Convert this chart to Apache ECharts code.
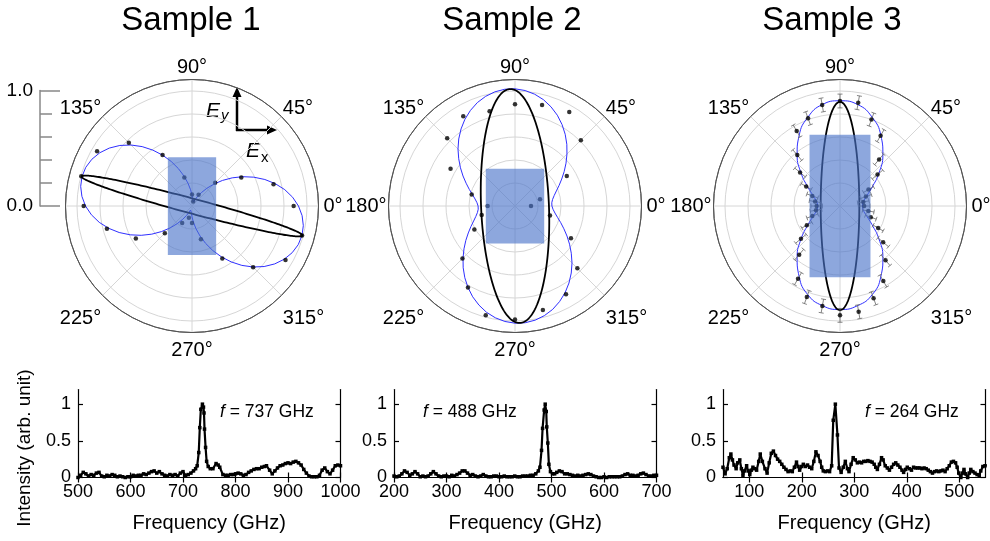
<!DOCTYPE html>
<html>
<head>
<meta charset="utf-8">
<script src="https://cdn.jsdelivr.net/npm/echarts@6/dist/echarts.min.js"></script>
<style>
  html, body { margin: 0; padding: 0; background: #fff; }
  #main { width: 990px; height: 541px; }
</style>
</head>
<body>
<div id="main"></div>
<script>
// ---------- polar data (radius normalised, angle in degrees) ----------
const dotAngles15 = [0, 15, 30, 45, 60, 75, 90, 105, 120, 135, 150, 165, 180, 195, 210, 225, 240, 255, 270, 285, 300, 315, 330, 345];
const dotAngles10 = [0, 10, 20, 30, 40, 50, 60, 70, 80, 90, 100, 110, 120, 130, 140, 150, 160, 170, 180, 190, 200, 210, 220, 230, 240, 250, 260, 270, 280, 290, 300, 310, 320, 330, 340, 350];
const fitAngles5 = [0, 5, 10, 15, 20, 25, 30, 35, 40, 45, 50, 55, 60, 65, 70, 75, 80, 85, 90, 95, 100, 105, 110, 115, 120, 125, 130, 135, 140, 145, 150, 155, 160, 165, 170, 175,
  180, 185, 190, 195, 200, 205, 210, 215, 220, 225, 230, 235, 240, 245, 250, 255, 260, 265, 270, 275, 280, 285, 290, 295, 300, 305, 310, 315, 320, 325, 330, 335, 340, 345, 350, 355];

// Sample 1 measured intensities (every 15 deg)
const s1Dots = [0.884, 0.734, 0.495, 0.285, 0.114, 0.040, 0.099, 0.257, 0.512, 0.777, 0.953, 0.997,
  0.942, 0.766, 0.564, 0.334, 0.171, 0.105, 0.148, 0.300, 0.527, 0.752, 0.939, 0.991];
// Sample 1 fitted curve (every 5 deg)
const s1Fit = [0.926, 0.878, 0.819, 0.750, 0.674, 0.593, 0.510, 0.427, 0.346, 0.270, 0.201, 0.142, 0.094, 0.059, 0.037, 0.030, 0.037, 0.059,
  0.094, 0.142, 0.201, 0.270, 0.346, 0.427, 0.510, 0.593, 0.674, 0.750, 0.819, 0.878, 0.926, 0.961, 0.983, 0.990, 0.983, 0.961,
  0.926, 0.878, 0.819, 0.750, 0.674, 0.593, 0.510, 0.427, 0.346, 0.270, 0.201, 0.142, 0.094, 0.059, 0.037, 0.030, 0.037, 0.059,
  0.094, 0.142, 0.201, 0.270, 0.346, 0.427, 0.510, 0.593, 0.674, 0.750, 0.819, 0.878, 0.926, 0.961, 0.983, 0.990, 0.983, 0.961];
// polarisation ellipse: [semi-major, semi-minor, tilt deg]
const s1Ellipse = [0.994, 0.065, 165];
// rectangle: [half-width, half-height]
const s1Rect = [0.21, 0.425];

// Sample 2
const s2Dots = [0.139, 0.225, 0.520, 0.810, 0.944, 0.910, 0.884, 0.854, 0.900, 0.834, 0.647, 0.390,
  0.238, 0.300, 0.408, 0.646, 0.818, 0.983, 0.986, 0.937, 0.887, 0.767, 0.562, 0.315];
const s2Fit = [0.321, 0.321, 0.332, 0.353, 0.383, 0.423, 0.469, 0.522, 0.579, 0.639, 0.701, 0.761, 0.818, 0.871, 0.917, 0.957, 0.987, 1.008,
  1.019, 1.019, 1.008, 0.987, 0.957, 0.917, 0.871, 0.818, 0.761, 0.701, 0.639, 0.579, 0.522, 0.469, 0.423, 0.383, 0.353, 0.332,
  0.321, 0.321, 0.332, 0.353, 0.383, 0.423, 0.469, 0.522, 0.579, 0.639, 0.701, 0.761, 0.818, 0.871, 0.917, 0.957, 0.987, 1.008,
  1.019, 1.019, 1.008, 0.987, 0.957, 0.917, 0.871, 0.818, 0.761, 0.701, 0.639, 0.579, 0.522, 0.469, 0.423, 0.383, 0.353, 0.332];
const s2Ellipse = [1.018, 0.295, 92.4];
const s2Rect = [0.254, 0.325];

// Sample 3 (every 10 deg, with error bars)
const s3Dots = [0.210, 0.206, 0.240, 0.286, 0.426, 0.529, 0.706, 0.800, 0.912, 0.913, 0.892, 0.812,
  0.753, 0.578, 0.453, 0.339, 0.256, 0.220, 0.203, 0.212, 0.256, 0.333, 0.443, 0.552,
  0.730, 0.843, 0.883, 0.951, 0.934, 0.854, 0.753, 0.616, 0.490, 0.383, 0.285, 0.250];
const s3Err = [0.05, 0.05, 0.05, 0.05, 0.06, 0.06, 0.06, 0.06, 0.06, 0.06, 0.06, 0.06,
  0.06, 0.06, 0.06, 0.05, 0.05, 0.05, 0.05, 0.05, 0.05, 0.05, 0.06, 0.06,
  0.06, 0.06, 0.06, 0.06, 0.06, 0.06, 0.06, 0.06, 0.06, 0.05, 0.05, 0.05];
const s3Fit = [0.195, 0.205, 0.245, 0.320, 0.440, 0.580, 0.710, 0.820, 0.895, 0.915, 0.895, 0.820,
  0.710, 0.580, 0.440, 0.320, 0.245, 0.205, 0.195, 0.205, 0.245, 0.320, 0.440, 0.580,
  0.710, 0.820, 0.880, 0.900, 0.880, 0.820, 0.710, 0.580, 0.440, 0.320, 0.245, 0.205];
const s3Ellipse = [0.905, 0.168, 90];
const s3Rect = [0.265, 0.62];

// ---------- spectra: [frequency GHz, intensity] ----------
const spectrum1 = [[500,0.00],[505,0.03],[510,0.07],[515,0.05],[520,0.02],[525,0.04],[530,0.03],[535,0.06],[540,0.07],[545,0.02],[550,0.01],[555,0.03],[560,0.02],[565,0.04],[570,0.03],[575,0.01],[580,0.02],[585,0.01],[590,0.00],[595,0.01],[600,0.01],[605,0.03],[610,0.02],[615,0.03],[620,0.03],[625,0.05],[630,0.04],[635,0.06],[640,0.08],[645,0.09],[650,0.06],[655,0.08],[660,0.05],[665,0.03],[670,0.02],[675,0.04],[680,0.03],[685,0.04],[690,0.02],[695,0.06],[700,0.08],[705,0.03],[710,0.04],[715,0.06],[720,0.09],[724,0.12],[727,0.16],[730,0.34],[732,0.68],[734,0.93],[737,1.00],[739,0.96],[740,0.88],[741,0.66],[743,0.41],[745,0.22],[748,0.15],[752,0.12],[757,0.12],[763,0.19],[767,0.17],[770,0.14],[776,0.04],[781,0.03],[786,0.03],[791,0.04],[796,0.04],[800,0.05],[805,0.06],[810,0.05],[815,0.03],[820,0.04],[825,0.07],[830,0.09],[835,0.11],[840,0.12],[845,0.12],[850,0.14],[855,0.15],[859,0.16],[865,0.10],[870,0.05],[875,0.09],[880,0.13],[885,0.16],[890,0.17],[895,0.19],[900,0.20],[905,0.19],[910,0.21],[915,0.22],[920,0.20],[925,0.17],[930,0.11],[935,0.06],[940,0.02],[945,0.01],[950,0.01],[955,0.01],[960,0.03],[965,0.10],[970,0.13],[975,0.08],[980,0.05],[985,0.10],[990,0.16],[995,0.17],[1000,0.16]];

const spectrum2 = [[200,0.02],[205,0.01],[210,0.02],[215,0.05],[220,0.09],[225,0.07],[230,0.03],[235,0.05],[240,0.08],[245,0.05],[250,0.01],[255,0.02],[260,0.01],[265,0.02],[270,0.05],[275,0.08],[280,0.05],[285,0.02],[290,0.01],[295,0.02],[300,0.02],[305,0.01],[310,0.03],[315,0.02],[320,0.04],[325,0.06],[330,0.09],[335,0.09],[340,0.06],[345,0.03],[350,0.04],[355,0.02],[360,0.01],[365,0.02],[370,0.04],[375,0.02],[380,0.01],[385,0.01],[390,0.02],[395,0.02],[400,0.01],[405,0.01],[410,0.02],[415,0.01],[420,0.01],[425,0.01],[430,0.02],[435,0.01],[440,0.01],[445,0.02],[450,0.02],[455,0.02],[460,0.03],[465,0.03],[470,0.05],[475,0.09],[478,0.14],[481,0.37],[483,0.67],[486,0.92],[488,1.00],[490,0.90],[491,0.69],[493,0.47],[495,0.18],[498,0.08],[502,0.05],[506,0.05],[510,0.07],[515,0.09],[520,0.08],[525,0.05],[530,0.05],[535,0.04],[540,0.03],[545,0.02],[550,0.03],[555,0.02],[560,0.03],[565,0.04],[570,0.05],[575,0.04],[580,0.02],[585,0.01],[590,0.00],[595,0.00],[600,0.01],[605,0.00],[610,0.01],[615,0.01],[620,0.01],[625,0.01],[630,0.01],[635,0.02],[640,0.04],[645,0.05],[650,0.03],[655,0.03],[660,0.02],[665,0.03],[670,0.05],[675,0.06],[680,0.04],[685,0.02],[690,0.02],[695,0.03],[700,0.03]];

const spectrum3 = [[50,0.14],[54,0.05],[58,0.12],[62,0.27],[65,0.32],[68,0.24],[71,0.17],[75,0.12],[78,0.20],[82,0.24],[85,0.12],[88,0.03],[91,0.09],[95,0.16],[98,0.09],[101,0.04],[104,0.10],[107,0.14],[110,0.12],[114,0.10],[118,0.22],[121,0.32],[125,0.22],[130,0.12],[134,0.06],[138,0.20],[142,0.33],[146,0.36],[150,0.30],[154,0.25],[158,0.22],[162,0.18],[166,0.14],[170,0.11],[174,0.08],[178,0.09],[182,0.08],[186,0.14],[190,0.21],[193,0.15],[196,0.10],[200,0.15],[203,0.18],[207,0.15],[211,0.17],[215,0.14],[219,0.12],[223,0.22],[227,0.35],[231,0.30],[235,0.22],[238,0.14],[241,0.09],[245,0.08],[249,0.09],[253,0.08],[257,0.16],[260,0.78],[264,1.00],[268,0.58],[271,0.13],[275,0.07],[279,0.14],[283,0.22],[287,0.12],[290,0.08],[294,0.18],[298,0.27],[302,0.24],[306,0.20],[310,0.21],[314,0.20],[318,0.22],[322,0.22],[326,0.23],[330,0.22],[334,0.21],[338,0.18],[341,0.14],[344,0.11],[348,0.18],[352,0.27],[355,0.24],[359,0.16],[363,0.13],[367,0.10],[371,0.14],[375,0.18],[379,0.20],[383,0.17],[387,0.14],[391,0.10],[394,0.07],[398,0.11],[401,0.14],[405,0.12],[409,0.10],[413,0.14],[417,0.13],[421,0.13],[425,0.13],[429,0.12],[433,0.13],[437,0.12],[441,0.10],[445,0.08],[449,0.06],[453,0.08],[457,0.09],[461,0.08],[465,0.09],[469,0.10],[473,0.08],[477,0.12],[481,0.16],[485,0.21],[489,0.22],[493,0.20],[496,0.14],[499,0.06],[503,0.00],[506,0.06],[509,0.11],[512,0.05],[516,0.00],[519,0.06],[522,0.11],[526,0.08],[530,0.06],[534,0.04],[538,0.03],[541,0.09],[545,0.15],[549,0.16],[552,0.17]];

const sampleTitles = ['Sample 1', 'Sample 2', 'Sample 3'];
const peakLabels = ['737', '488', '264'];
const xRanges = [[500, 1000], [200, 700], [50, 550]];
const xTicks = [[500, 600, 700, 800, 900, 1000], [200, 300, 400, 500, 600, 700], [100, 200, 300, 400, 500]];
const yTicks = [0, 0.5, 1];
const scaleTicks = [0, 1];

// ---------- layout ----------
const FONT = '"Liberation Sans", Arial, Helvetica, sans-serif';
const polarCenters = [[192, 206], [515, 206], [840, 206]];
const POLAR_R = 126.5;
const gridLefts = [78, 394, 723];
const GRID_W = 262.5, GRID_TOP = 389.5, GRID_H = 88;

const FIT_BLUE = '#2f2fff';
const RECT_FILL = 'rgba(74,116,201,0.63)';

function toPolar(x, y) {
  let a = Math.atan2(y, x) * 180 / Math.PI;
  if (a < 0) a += 360;
  return [Math.hypot(x, y), a];
}

function labelFormatter(hide180) {
  return function (v) {
    if (v >= 360) return '';
    if (v === 180 && hide180) return '';
    const s = v + '°';
    if (v === 0) return '{r|' + s + '}';
    if (v === 225 || v === 315) return '{b|' + s + '}';
    if (v === 270) return '{c|' + s + '}';
    if (v === 45 || v === 135) return '{d|' + s + '}';
    return '{t|' + s + '}';
  };
}
const angleRich = {
  t: { fontSize: 20, color: '#000', fontFamily: FONT },
  d: { fontSize: 20, color: '#000', fontFamily: FONT, padding: [0, 0, -3, 0] },
  r: { fontSize: 20, color: '#000', fontFamily: FONT, padding: [0, 0, 0, 3] },
  b: { fontSize: 20, color: '#000', fontFamily: FONT, padding: [12, 0, 0, 0] },
  c: { fontSize: 20, color: '#000', fontFamily: FONT, padding: [6, 0, 0, 0] }
};

const polar = [], angleAxis = [], radiusAxis = [];
polarCenters.forEach(function (c, i) {
  polar.push({ center: c, radius: POLAR_R });
  angleAxis.push({
    polarIndex: i, type: 'value', min: 0, max: 360, interval: 45,
    startAngle: 0, clockwise: false,
    axisLine: { lineStyle: { color: '#555', width: 1 } },
    axisTick: { show: false },
    axisLabel: { margin: 2, formatter: labelFormatter(i === 0), rich: angleRich },
    splitLine: { lineStyle: { color: '#d6d6d6', width: 1 } }
  });
  radiusAxis.push({
    polarIndex: i, type: 'value', min: 0, max: 1.1, interval: 0.2,
    axisLine: { show: false }, axisTick: { show: false }, axisLabel: { show: false },
    splitLine: { show: true, lineStyle: { color: ['#d6d6d6', '#d6d6d6', '#d6d6d6', '#d6d6d6', '#d6d6d6', '#d6d6d6', '#555'], width: 1 } }
  });
});

const series = [];

function addPolarSample(i, fitAngles, fit, smooth, dotAngles, dots, ellipse, rect, errs) {
  const fitData = fitAngles.map(function (a, k) { return [fit[k], a]; });
  fitData.push([fit[0], 360]);
  series.push({
    type: 'line', coordinateSystem: 'polar', polarIndex: i, data: fitData,
    showSymbol: false, smooth: smooth, lineStyle: { color: FIT_BLUE, width: 1 }, z: 2, silent: true
  });
  series.push({
    type: 'custom', coordinateSystem: 'polar', polarIndex: i, data: [ellipse], z: 3, silent: true,
    renderItem: function (params, api) {
      const a = api.value(0), b = api.value(1), tilt = api.value(2) * Math.PI / 180;
      const pts = [];
      for (let k = 0; k <= 240; k++) {
        const t = k / 240 * 2 * Math.PI;
        const x = a * Math.cos(t), y = b * Math.sin(t);
        const p = toPolar(x * Math.cos(tilt) - y * Math.sin(tilt), x * Math.sin(tilt) + y * Math.cos(tilt));
        pts.push(api.coord(p));
      }
      return { type: 'polyline', shape: { points: pts }, style: { stroke: '#000', lineWidth: 1.8, fill: null } };
    }
  });
  if (errs) {
    series.push({
      type: 'custom', coordinateSystem: 'polar', polarIndex: i, z: 4, silent: true,
      data: dotAngles.map(function (a, k) { return [dots[k], a, errs[k]]; }),
      renderItem: function (params, api) {
        const r = api.value(0), a = api.value(1), e = api.value(2);
        const p1 = api.coord([r - e, a]), p2 = api.coord([r + e, a]);
        const dx = p2[0] - p1[0], dy = p2[1] - p1[1], L = Math.hypot(dx, dy) || 1;
        const nx = -dy / L * 2.5, ny = dx / L * 2.5;
        const st = { stroke: '#666', lineWidth: 0.8 };
        return {
          type: 'group', children: [
            { type: 'line', shape: { x1: p1[0], y1: p1[1], x2: p2[0], y2: p2[1] }, style: st },
            { type: 'line', shape: { x1: p2[0] - nx, y1: p2[1] - ny, x2: p2[0] + nx, y2: p2[1] + ny }, style: st },
            { type: 'line', shape: { x1: p1[0] - nx, y1: p1[1] - ny, x2: p1[0] + nx, y2: p1[1] + ny }, style: st }
          ]
        };
      }
    });
  }
  series.push({
    type: 'scatter', coordinateSystem: 'polar', polarIndex: i, z: 5, silent: true,
    data: dotAngles.map(function (a, k) { return [dots[k], a]; }),
    symbol: 'circle', symbolSize: 4.5, itemStyle: { color: '#000' }
  });
  series.push({
    type: 'custom', coordinateSystem: 'polar', polarIndex: i, data: [rect], z: 6, silent: true,
    renderItem: function (params, api) {
      const w = api.value(0), h = api.value(1);
      const corners = [[w, h], [-w, h], [-w, -h], [w, -h]];
      const pts = corners.map(function (c) { return api.coord(toPolar(c[0], c[1])); });
      return { type: 'polygon', shape: { points: pts }, style: { fill: RECT_FILL, stroke: null } };
    }
  });
}

addPolarSample(0, fitAngles5, s1Fit, false, dotAngles15, s1Dots, s1Ellipse, s1Rect, null);
addPolarSample(1, fitAngles5, s2Fit, false, dotAngles15, s2Dots, s2Ellipse, s2Rect, null);
addPolarSample(2, dotAngles10, s3Fit, 0.5, dotAngles10, s3Dots, s3Ellipse, s3Rect, s3Err);

// ---------- spectra ----------
const grid = [], xAxis = [], yAxis = [];
const spectra = [spectrum1, spectrum2, spectrum3];
const axisLineStyle = { color: '#000', width: 1.2 };
spectra.forEach(function (spec, i) {
  grid.push({ left: gridLefts[i], top: GRID_TOP, width: GRID_W, height: GRID_H });
  xAxis.push({
    type: 'value', gridIndex: i, min: xRanges[i][0], max: xRanges[i][1],
    axisLine: { lineStyle: axisLineStyle },
    axisTick: { inside: true, length: 5, customValues: xTicks[i], lineStyle: axisLineStyle },
    axisLabel: { customValues: xTicks[i], fontSize: 18, color: '#000', margin: 6, fontFamily: FONT,
      formatter: function (v) { return String(v); } },
    splitLine: { show: false },
    name: 'Frequency (GHz)', nameLocation: 'middle', nameGap: 36,
    nameTextStyle: { fontSize: 20, color: '#000', fontFamily: FONT }
  });
  xAxis.push({
    type: 'value', gridIndex: i, position: 'top', min: xRanges[i][0], max: xRanges[i][1],
    axisLine: { lineStyle: axisLineStyle },
    axisTick: { inside: true, length: 5, customValues: xTicks[i], lineStyle: axisLineStyle },
    axisLabel: { show: false }, splitLine: { show: false }
  });
  yAxis.push({
    type: 'value', gridIndex: i, min: 0, max: 1.2,
    axisLine: { show: true, lineStyle: axisLineStyle },
    axisTick: { show: true, inside: true, length: 5, customValues: yTicks, lineStyle: axisLineStyle },
    axisLabel: { customValues: yTicks, fontSize: 18, color: '#000', margin: 7, fontFamily: FONT,
      formatter: function (v) { return String(v); } },
    splitLine: { show: false }
  });
  yAxis.push({
    type: 'value', gridIndex: i, position: 'right', min: 0, max: 1.2,
    axisLine: { show: true, lineStyle: axisLineStyle },
    axisTick: { show: true, inside: true, length: 5, customValues: yTicks, lineStyle: axisLineStyle },
    axisLabel: { show: false }, splitLine: { show: false }
  });
  series.push({
    type: 'line', xAxisIndex: 2 * i, yAxisIndex: 2 * i, data: spec,
    symbol: 'rect', symbolSize: 3.5, showSymbol: true, showAllSymbol: true,
    lineStyle: { color: '#000', width: 2.2 }, itemStyle: { color: '#000' }, z: 3, silent: true
  });
});

// radial intensity scale beside Sample 1
grid.push({ left: 40, top: 90.5, width: 1, height: 115.5 });
xAxis.push({ type: 'value', gridIndex: 3, show: false, min: 0, max: 1 });
yAxis.push({
  type: 'value', gridIndex: 3, min: 0, max: 1, interval: 1,
  axisLine: { show: true, lineStyle: { color: '#888', width: 1.5 } },
  axisTick: { show: true, inside: true, length: 20, customValues: scaleTicks, lineStyle: { color: '#888', width: 1.5 } },
  minorTick: { show: true, splitNumber: 5, length: 12, lineStyle: { color: '#888', width: 1.5 } },
  axisLabel: { customValues: scaleTicks, fontSize: 19, color: '#000', margin: 7, fontFamily: FONT,
    formatter: function (v) { return v.toFixed(1); } },
  splitLine: { show: false }
});

// ---------- annotations ----------
const graphic = [];
sampleTitles.forEach(function (t, i) {
  graphic.push({
    type: 'text', x: [191, 512, 832][i], y: 21,
    style: { text: t, fontSize: 33, fill: '#000', fontFamily: FONT, align: 'center', verticalAlign: 'middle' }
  });
});
const peakLabelX = [220, 423, 865];
peakLabels.forEach(function (f, i) {
  graphic.push({
    type: 'text', x: peakLabelX[i], y: 412,
    style: {
      text: '{i|f}{n| = ' + f + ' GHz}', align: 'left', verticalAlign: 'middle',
      rich: {
        i: { fontSize: 17.5, fontStyle: 'italic', fill: '#000', fontFamily: FONT },
        n: { fontSize: 17.5, fill: '#000', fontFamily: FONT }
      }
    }
  });
});
graphic.push({
  type: 'text', x: 25, y: 448, rotation: Math.PI / 2,
  style: { text: 'Intensity (arb. unit)', fontSize: 19, fill: '#000', fontFamily: FONT, align: 'center', verticalAlign: 'middle' }
});
// field-direction arrows
graphic.push({ type: 'line', shape: { x1: 237, y1: 131, x2: 237, y2: 95 }, style: { stroke: '#000', lineWidth: 2.5 } });
graphic.push({ type: 'polygon', shape: { points: [[237, 87], [232.5, 97], [241.5, 97]] }, style: { fill: '#000' } });
graphic.push({ type: 'line', shape: { x1: 236, y1: 130, x2: 269, y2: 130 }, style: { stroke: '#000', lineWidth: 2.5 } });
graphic.push({ type: 'polygon', shape: { points: [[277, 130], [267, 125.5], [267, 134.5]] }, style: { fill: '#000' } });
graphic.push({ type: 'text', x: 206, y: 111, style: { text: 'E', fontSize: 21, fontStyle: 'italic', fill: '#000', fontFamily: FONT, align: 'left', verticalAlign: 'middle' } });
graphic.push({ type: 'text', x: 221, y: 116, style: { text: 'y', fontSize: 15, fontStyle: 'italic', fill: '#000', fontFamily: FONT, align: 'left', verticalAlign: 'middle' } });
graphic.push({ type: 'text', x: 246, y: 151, style: { text: 'E', fontSize: 21, fontStyle: 'italic', fill: '#000', fontFamily: FONT, align: 'left', verticalAlign: 'middle' } });
graphic.push({ type: 'text', x: 261, y: 157.5, style: { text: 'x', fontSize: 15, fill: '#000', fontFamily: FONT, align: 'left', verticalAlign: 'middle' } });

const chart = echarts.init(document.getElementById('main'), null, { renderer: 'canvas' });
chart.setOption({
  animation: false,
  backgroundColor: '#fff',
  textStyle: { fontFamily: FONT },
  polar: polar, angleAxis: angleAxis, radiusAxis: radiusAxis,
  grid: grid, xAxis: xAxis, yAxis: yAxis,
  series: series,
  graphic: graphic
});
</script>
</body>
</html>
